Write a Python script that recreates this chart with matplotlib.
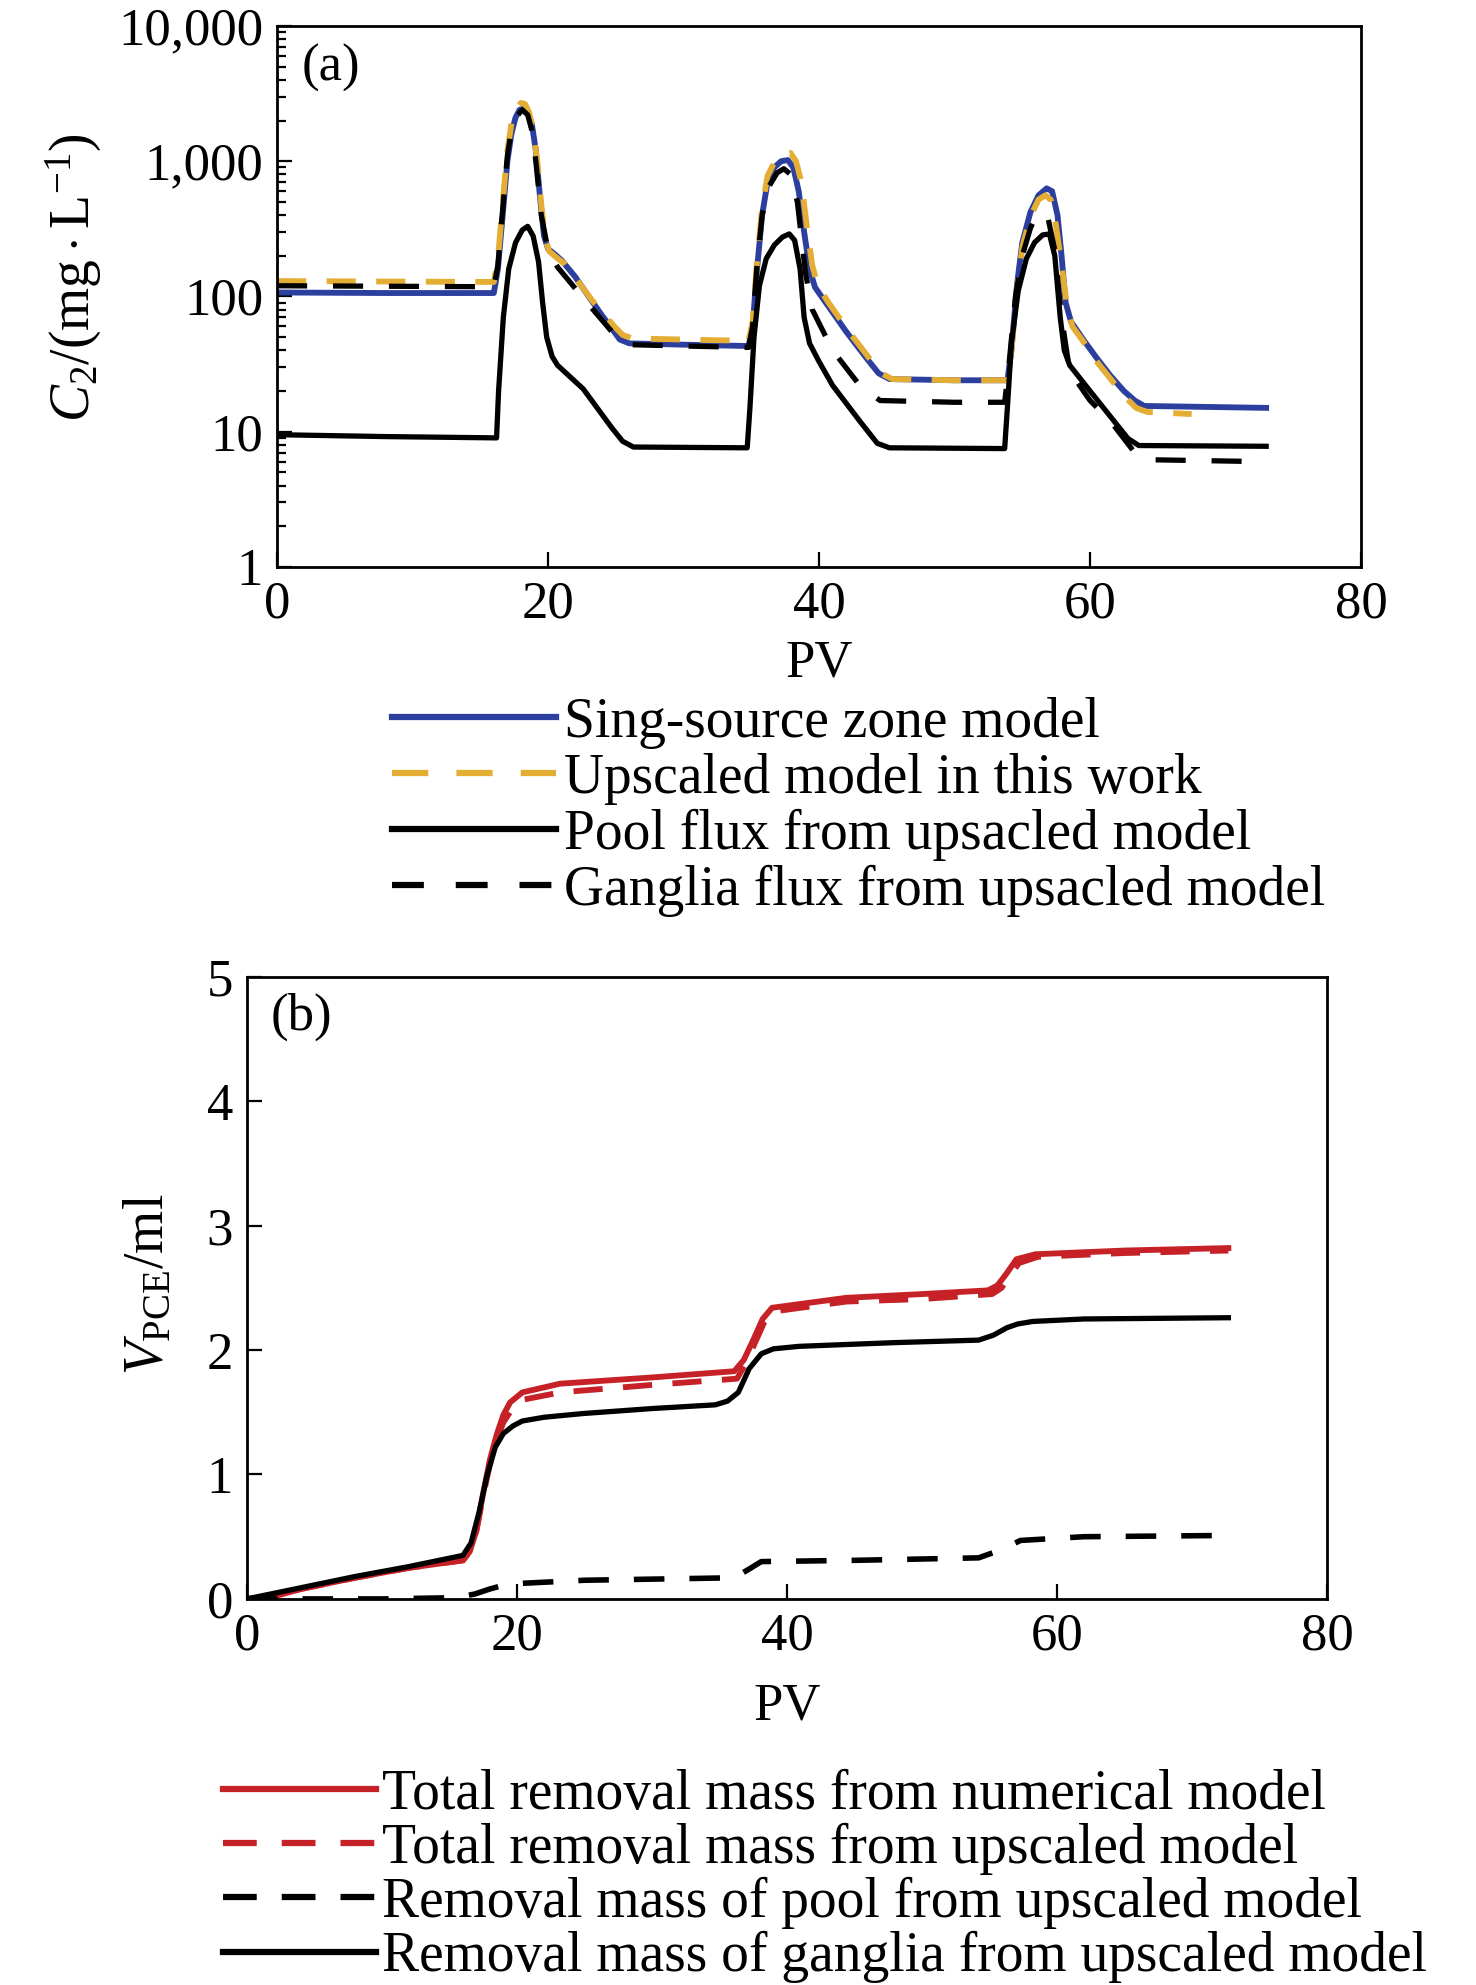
import matplotlib
matplotlib.use("Agg")
import matplotlib.pyplot as plt
from matplotlib.lines import Line2D
from matplotlib.ticker import FixedLocator, FuncFormatter, LogLocator, NullFormatter

plt.rcParams["font.family"] = ["Liberation Serif", "DejaVu Serif"]
plt.rcParams["mathtext.fontset"] = "custom"
plt.rcParams["mathtext.rm"] = "Liberation Serif"
plt.rcParams["mathtext.it"] = "Liberation Serif:italic"
plt.rcParams["font.size"] = 38

BLUE = "#2c3e9e"
GOLD = "#e4ae35"
RED = "#c62127"

# (a) concentration vs PV
pv_single = [0, 8, 16.0, 16.3, 16.7, 17.0, 17.3, 17.6, 17.9, 18.2, 18.5, 18.8, 19.1, 19.4, 19.7,
             20.0, 20.5, 21.0, 22.0, 23.0, 24.0, 24.7, 25.3, 26.0, 30, 34.8,
             35.1, 35.4, 35.8, 36.2, 36.7, 37.2, 37.7, 38.1, 38.5, 38.9, 39.3, 39.7, 40.5, 42.0,
             43.5, 44.4, 45.2, 50, 53.9,
             54.2, 54.6, 55.0, 55.6, 56.2, 56.8, 57.2, 57.6, 57.9, 58.2, 58.6, 59.5, 60.5, 61.5,
             62.5, 63.3, 64.0, 73]
c_single = [107, 106, 106, 160, 450, 1000, 1600, 2100, 2400, 2450, 2300, 1900, 1200, 550, 280,
            225, 205, 185, 140, 100, 72, 58, 48, 45, 44, 43,
            60, 150, 400, 700, 900, 1000, 1020, 900, 600, 300, 160, 117, 90, 55,
            35, 27, 24.5, 24, 24,
            40, 120, 250, 420, 560, 630, 600, 400, 200, 90, 65, 48, 35, 26,
            20, 17, 15.5, 15]

pv_up = [0, 8, 16.0, 16.3, 16.7, 17.0, 17.3, 17.6, 18.0, 18.3, 18.6, 18.9, 19.2, 19.5, 19.8,
         20.1, 20.6, 21.2, 22.2, 23.2, 24.2, 24.9, 25.5, 26.2, 30, 34.8,
         35.1, 35.4, 35.8, 36.2, 36.7, 37.2, 37.9, 38.3, 38.7, 39.1, 39.5, 39.9, 40.7, 42.2,
         43.7, 44.6, 45.4, 50, 53.9,
         54.2, 54.6, 55.0, 55.6, 56.2, 56.7, 57.1, 57.5, 57.9, 58.3, 58.7, 59.6, 60.6, 61.6,
         62.6, 63.4, 64.2, 67.5]
c_up = [130, 129, 128, 190, 550, 1200, 1900, 2400, 2700, 2650, 2300, 1700, 1000, 480, 260,
        215, 195, 175, 130, 95, 72, 60, 52, 49, 48, 47,
        65, 170, 450, 780, 980, 1100, 1150, 1000, 700, 330, 170, 120, 90, 55,
        35, 27, 24.5, 24, 24,
        40, 110, 230, 390, 520, 560, 520, 330, 170, 85, 60, 45, 32, 24,
        18, 15, 14, 13.5]

pv_gang = [0, 8, 16.0, 16.3, 16.7, 17.0, 17.3, 17.6, 18.1, 18.5, 18.8, 19.1, 19.5, 20.0, 20.7,
           22.5, 24.7, 26.0, 30, 34.8,
           35.1, 35.4, 35.8, 36.3, 36.9, 37.4, 37.9, 38.4, 39.0, 39.5, 41.0, 43.0, 44.5, 50, 53.7,
           54.0, 54.5, 55.0, 55.6, 56.0, 56.4, 56.9, 57.4, 57.9, 58.5, 60.0, 61.5, 63.3, 64.5, 73]
c_gang = [120, 119, 118, 170, 500, 1100, 1700, 2100, 2400, 2200, 1700, 1000, 400, 220, 165,
          100, 55, 44, 43, 42,
          60, 160, 400, 650, 820, 880, 800, 500, 150, 80, 40, 22, 17, 16.5, 16.5,
          30, 100, 200, 320, 390, 420, 380, 220, 70, 28, 17, 12, 7, 6.2, 6]

pv_pool = [0, 8, 16.2, 16.35, 16.7, 17.1, 17.6, 18.1, 18.5, 18.9, 19.3, 19.6, 19.9, 20.3, 20.7,
           22.6, 24.7, 25.5, 26.3, 34.7,
           34.9, 35.2, 35.6, 36.1, 36.7, 37.3, 37.8, 38.2, 38.6, 38.9, 39.3, 40.0, 41.0, 43.0,
           44.3, 45.2, 53.7,
           53.9, 54.2, 54.7, 55.3, 55.9, 56.5, 57.0, 57.4, 57.8, 58.1, 58.5, 60.0, 62.8, 63.6, 73]
c_pool = [9.5, 9.2, 9.0, 20, 70, 160, 250, 310, 330, 280, 180, 90, 50, 36, 31,
          20.7, 10.7, 8.5, 7.7, 7.6,
          15, 50, 120, 190, 240, 275, 290, 260, 160, 70, 45, 33, 22, 12,
          8.2, 7.6, 7.5,
          15, 45, 110, 190, 250, 285, 290, 200, 70, 40, 31, 20, 8.9, 7.9, 7.8]

labels_a = ["Sing-source zone model", "Upscaled model in this work",
            "Pool flux from upsacled model", "Ganglia flux from upsacled model"]

# (b) removed PCE volume vs PV
pv_tot_num = [0, 2, 4, 8, 12, 16.0, 16.5, 17.0, 17.5, 18.0, 18.5, 19.0, 19.5, 20.4, 23.2, 30,
              36.1, 36.8, 37.5, 38.2, 38.9, 44.4, 50, 54.9, 55.6, 56.3, 57.0, 58.4, 65, 72.7]
v_tot_num = [0, 0.02, 0.08, 0.17, 0.25, 0.31, 0.38, 0.55, 0.85, 1.12, 1.32, 1.48, 1.58, 1.66,
             1.73, 1.78, 1.83, 1.92, 2.08, 2.25, 2.34, 2.42, 2.45, 2.48, 2.52, 2.62, 2.73, 2.77,
             2.80, 2.82]

pv_tot_up = [0, 2, 4, 8, 12, 16.0, 16.5, 17.0, 17.5, 18.0, 18.5, 19.0, 19.6, 20.4, 23.2, 30,
             36.3, 37.0, 37.6, 38.3, 39.0, 44.4, 50, 55.2, 55.9, 56.5, 57.2, 58.6, 65, 72.7]
v_tot_up = [0, 0.02, 0.08, 0.17, 0.25, 0.31, 0.38, 0.55, 0.83, 1.08, 1.28, 1.42, 1.52, 1.60,
            1.66, 1.72, 1.77, 1.90, 2.05, 2.22, 2.31, 2.39, 2.41, 2.45, 2.50, 2.60, 2.70, 2.75,
            2.78, 2.80]

pv_pool_m = [0, 10, 15.5, 16.9, 18.0, 19.35, 25, 36.1, 37.2, 38.1, 45, 54.2, 56.0, 57.3, 62, 72.7]
v_pool_m = [0, 0.0, 0.01, 0.04, 0.08, 0.12, 0.15, 0.17, 0.24, 0.30, 0.31, 0.33, 0.40, 0.47, 0.50, 0.51]

pv_gang_m = [0, 4, 8, 12, 16.0, 16.6, 17.2, 17.8, 18.4, 19.0, 19.7, 20.4, 22.0, 24.9, 30, 34.7,
             35.6, 36.4, 37.2, 38.1, 39.0, 40.9, 48, 54.2, 55.3, 56.3, 57.1, 58.2, 62, 72.7]
v_gang_m = [0, 0.09, 0.18, 0.26, 0.35, 0.45, 0.70, 1.00, 1.22, 1.33, 1.39, 1.43, 1.46, 1.49,
            1.53, 1.56, 1.59, 1.66, 1.85, 1.97, 2.01, 2.03, 2.06, 2.08, 2.12, 2.18, 2.21, 2.23,
            2.25, 2.26]

labels_b = ["Total removal mass from numerical model", "Total removal mass from upscaled model",
            "Removal mass of pool from upscaled model", "Removal mass of ganglia from upscaled model"]


def style_axes(ax):
    for s in ax.spines.values():
        s.set_linewidth(2.0)
    ax.tick_params(which="both", direction="in", top=False, right=False, width=1.6)
    ax.tick_params(which="major", length=11, pad=10)
    ax.tick_params(which="minor", length=6.5)


fig = plt.figure(figsize=(14.76, 19.85), dpi=100)

ax1 = fig.add_axes([0.1877, 0.7144, 0.7344, 0.2725])
ax1.plot(pv_single, c_single, color=BLUE, lw=4.2)
ax1.plot(pv_up, c_up, color=GOLD, lw=4.2, dashes=(5, 3.5))
ax1.plot(pv_gang, c_gang, color="black", lw=3.8, dashes=(5.7, 4.9))
ax1.plot(pv_pool, c_pool, color="black", lw=3.8)
ax1.set_yscale("log")
ax1.set_xlim(0, 80)
ax1.set_ylim(1, 10000)
ax1.set_xticks([0, 20, 40, 60, 80])
ax1.yaxis.set_major_locator(FixedLocator([1, 10, 100, 1000, 10000]))
ax1.yaxis.set_major_formatter(FuncFormatter(lambda v, p: f"{v:,.0f}"))
ax1.yaxis.set_minor_locator(LogLocator(base=10, subs=range(2, 10)))
ax1.yaxis.set_minor_formatter(NullFormatter())
style_axes(ax1)
ax1.set_xlabel("PV")
ax1.set_ylabel(r"$C_2/(\mathrm{mg}\cdot\mathrm{L}^{-1})$", fontsize=40)
ax1.xaxis.set_label_coords(0.5, -0.135)
ax1.yaxis.set_label_coords(-0.16, 0.535)
ax1.text(0.023, 0.922, "(a)", transform=ax1.transAxes, va="center", ha="left")

handles_a = [Line2D([], [], color=BLUE, lw=4.5),
             Line2D([], [], color=GOLD, lw=4.5, dashes=(5.8, 4.5)),
             Line2D([], [], color="black", lw=4.5),
             Line2D([], [], color="black", lw=4.5, dashes=(5.1, 5.1))]
fig.legend(handles_a, labels_a, loc="upper left", bbox_to_anchor=(0.2656, 0.649),
           frameon=False, borderpad=0, borderaxespad=0, handlelength=2.95,
           handletextpad=0.15, labelspacing=0.07, fontsize=40)

ax2 = fig.add_axes([0.1673, 0.1945, 0.7317, 0.3134])
ax2.plot(pv_tot_num, v_tot_num, color=RED, lw=4.2)
ax2.plot(pv_tot_up, v_tot_up, color=RED, lw=4.2, dashes=(5, 3.5))
ax2.plot(pv_pool_m, v_pool_m, color="black", lw=4.0, dashes=(5.5, 4.5))
ax2.plot(pv_gang_m, v_gang_m, color="black", lw=3.8)
ax2.set_xlim(0, 80)
ax2.set_ylim(0, 5)
ax2.set_xticks([0, 20, 40, 60, 80])
ax2.set_yticks([0, 1, 2, 3, 4, 5])
style_axes(ax2)
ax2.set_xlabel("PV")
ax2.set_ylabel(r"$V_{\mathrm{PCE}}$/ml", fontsize=40)
ax2.xaxis.set_label_coords(0.5, -0.135)
ax2.yaxis.set_label_coords(-0.066, 0.505)
ax2.text(0.022, 0.936, "(b)", transform=ax2.transAxes, va="center", ha="left")

handles_b = [Line2D([], [], color=RED, lw=4.5),
             Line2D([], [], color=RED, lw=4.5, dashes=(5.4, 4.0)),
             Line2D([], [], color="black", lw=4.5, dashes=(5.4, 4.0)),
             Line2D([], [], color="black", lw=4.5)]
fig.legend(handles_b, labels_b, loc="upper left", bbox_to_anchor=(0.151, 0.109),
           frameon=False, borderpad=0, borderaxespad=0, handlelength=2.75,
           handletextpad=0.12, labelspacing=0.035, fontsize=40)

fig.savefig("out.png", dpi=100)
